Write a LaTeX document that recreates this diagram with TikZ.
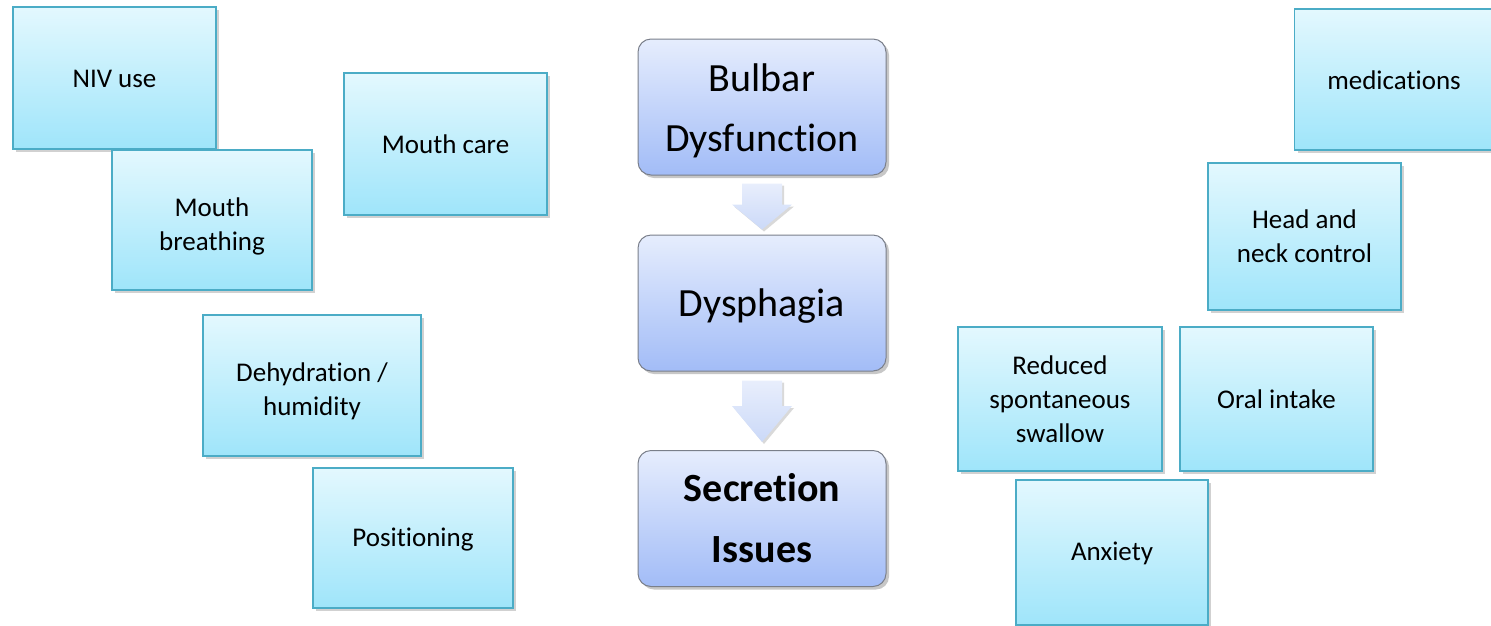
\documentclass[tikz,border=0pt]{standalone}
\usepackage{fontspec}
\setmainfont{Carlito}[Ligatures=NoCommon]
\usetikzlibrary{calc,shadows}
\definecolor{cyanedge}{HTML}{4BACC6}
\definecolor{cyantop}{HTML}{E3F8FE}
\definecolor{cyanbot}{HTML}{9FE5FA}
\definecolor{bluetop}{HTML}{E6EDFD}
\definecolor{bluebot}{HTML}{A2BCF7}
\definecolor{blueedge}{HTML}{7A7F8A}
\definecolor{arrtop}{HTML}{E8EEFC}
\definecolor{arrbot}{HTML}{CBD9F8}
% #1 extra space above (moves text down by half), #2 extra space below, #3 lines
\newcommand\boxlines[3]{\raisebox{0pt}[\dimexpr\height+#1\relax][\dimexpr\depth+#2\relax]{\begin{tabular}{@{}c@{}}#3\end{tabular}}}
\tikzset{
  factor/.style={draw=cyanedge, line width=1.6pt, top color=cyantop, bottom color=cyanbot,
    drop shadow={shadow xshift=3pt, shadow yshift=-3pt, fill=black, opacity=0.18},
    font=\fontsize{27}{34}\selectfont, inner sep=0pt},
  stage/.style={draw=blueedge, line width=1pt, rounded corners=13pt, top color=bluetop, bottom color=bluebot,
    drop shadow={shadow xshift=3pt, shadow yshift=-3pt, fill=black, opacity=0.22},
    font=\fontsize{40}{60}\selectfont, inner sep=0pt,
    minimum width=248pt, minimum height=136pt},
  conn/.style={top color=arrtop, bottom color=arrbot,
    drop shadow={shadow xshift=2pt, shadow yshift=-2pt, fill=black, opacity=0.15}}
}
\begin{document}
\begin{tikzpicture}[x=1pt,y=-1pt]
\useasboundingbox (0,0) rectangle (1491,625);
% left factors
\node[factor, minimum width=203pt, minimum height=142pt] (niv) at (114.5,78) {\boxlines{5pt}{0pt}{NIV use}};
\node[factor, minimum width=200pt, minimum height=140pt] (mbreath) at (212,220) {\boxlines{13pt}{0pt}{Mouth\\breathing}};
\node[factor, minimum width=203pt, minimum height=142pt] (mcare) at (445.5,144) {\boxlines{5pt}{0pt}{Mouth care}};
\node[factor, minimum width=218pt, minimum height=141pt] (dehyd) at (312,385.5) {\boxlines{12pt}{0pt}{Dehydration /\\humidity}};
\node[factor, minimum width=200pt, minimum height=140pt] (posit) at (413,538) {\boxlines{2.5pt}{0pt}{Positioning}};
% right factors
\node[factor, minimum width=199pt, minimum height=141pt] (meds) at (1394,79.5) {\boxlines{6pt}{0pt}{medications}};
\node[factor, minimum width=193pt, minimum height=147pt] (head) at (1304.5,236.5) {\boxlines{5pt}{0pt}{Head and\\neck control}};
\node[factor, minimum width=204pt, minimum height=144pt] (reduced) at (1060,399) {\boxlines{5pt}{0pt}{Reduced\\spontaneous\\swallow}};
\node[factor, minimum width=193pt, minimum height=144pt] (oral) at (1276.5,399) {\boxlines{5pt}{0pt}{Oral intake}};
\node[factor, minimum width=192pt, minimum height=145pt] (anxiety) at (1112,552.5) {\boxlines{3pt}{0pt}{Anxiety}};
% central chain
\node[stage] (bulbar) at (762,107) {\boxlines{4.5pt}{0pt}{Bulbar\\Dysfunction}};
\node[stage] (dysph) at (762,303) {\boxlines{3.5pt}{0pt}{Dysphagia}};
\node[stage, font=\fontsize{40}{61}\selectfont\bfseries] (secr) at (762,518.5) {\boxlines{3pt}{0pt}{Secretion\\Issues}};
% arrows
\path[conn] ($(bulbar.south)+(-20,8)$) -- ($(bulbar.south)+(20,8)$) -- ($(dysph.north)+(20,-30)$)
  -- ($(dysph.north)+(30,-30)$) -- ($(dysph.north)+(0,-5)$) -- ($(dysph.north)+(-30,-30)$)
  -- ($(dysph.north)+(-20,-30)$) -- cycle;
\path[conn] ($(dysph.south)+(-20,9)$) -- ($(dysph.south)+(20,9)$) -- ($(secr.north)+(20,-44)$)
  -- ($(secr.north)+(30,-44)$) -- ($(secr.north)+(0,-8)$) -- ($(secr.north)+(-30,-44)$)
  -- ($(secr.north)+(-20,-44)$) -- cycle;
\end{tikzpicture}
\end{document}
